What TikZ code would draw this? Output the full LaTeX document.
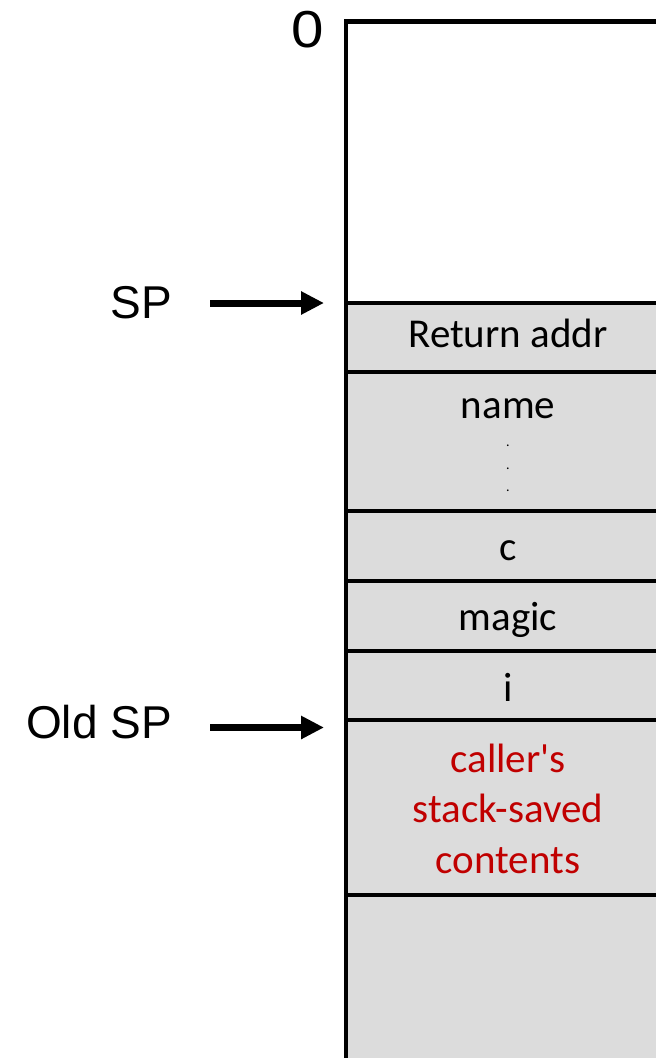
\documentclass[tikz,border=0pt]{standalone}
\usepackage{fontspec}
\setmainfont{Carlito}
\newfontfamily\arialf{Liberation Sans}
\usetikzlibrary{arrows.meta}
\definecolor{cellgray}{RGB}{220,220,220}
\definecolor{callred}{RGB}{192,0,0}
\begin{document}
\begin{tikzpicture}[x=1pt,y=-1pt,
  sep/.style={line width=4pt},
  cell/.style={font=\fontsize{41}{50.5}\selectfont, inner sep=0pt, anchor=base},
  dotn/.style={font=\fontsize{14}{14}\selectfont, inner sep=0pt, anchor=base},
  lbl/.style={font=\arialf\fontsize{46}{55}\selectfont, inner sep=0pt, anchor=base east},
  ptr/.style={line width=7pt, -{Triangle[length=23pt,width=22pt]}}]
\useasboundingbox (0,0) rectangle (656,1058);
% stack column
\fill[cellgray] (346,303) rectangle (662,1064);
\draw[line width=4.5pt] (346,1064) -- (346,21.5) -- (662,21.5);
\foreach \y in {303,372,511,581,651,720,895}
  \draw[sep] (346,\y) -- (662,\y);
% cell texts
\node[cell] (ret) at (508,347) {Return addr};
\node[cell] (name) at (508,418) {name};
\node[dotn] (d1) at (508,446) {.};
\node[dotn] (d2) at (508,469) {.};
\node[dotn] (d3) at (508,491) {.};
\node[cell] (c) at (508,560) {c};
\node[cell] (magic) at (508,630) {magic};
\node[cell] (i) at (508,701.5) {i};
\node[cell, text=callred, align=center] (caller) at (508,873) {caller\textquotesingle s\\stack-saved\\contents};
% labels
\node[font=\arialf\fontsize{52}{60}\selectfont, inner sep=0pt, anchor=base] (zero) at (307.5,47) {\scalebox{1.12}[1]{0}};
\node[lbl] (sp) at (172,318) {SP};
\node[lbl] (oldsp) at (172,738) {Old SP};
% pointers
\coordinate (sptail) at (210,303);
\coordinate (sphead) at (324,303);
\coordinate (oldtail) at (210,727.5);
\coordinate (oldhead) at (324,727.5);
\draw[ptr] (sptail) -- (sphead);
\draw[ptr] (oldtail) -- (oldhead);
\end{tikzpicture}
\end{document}
